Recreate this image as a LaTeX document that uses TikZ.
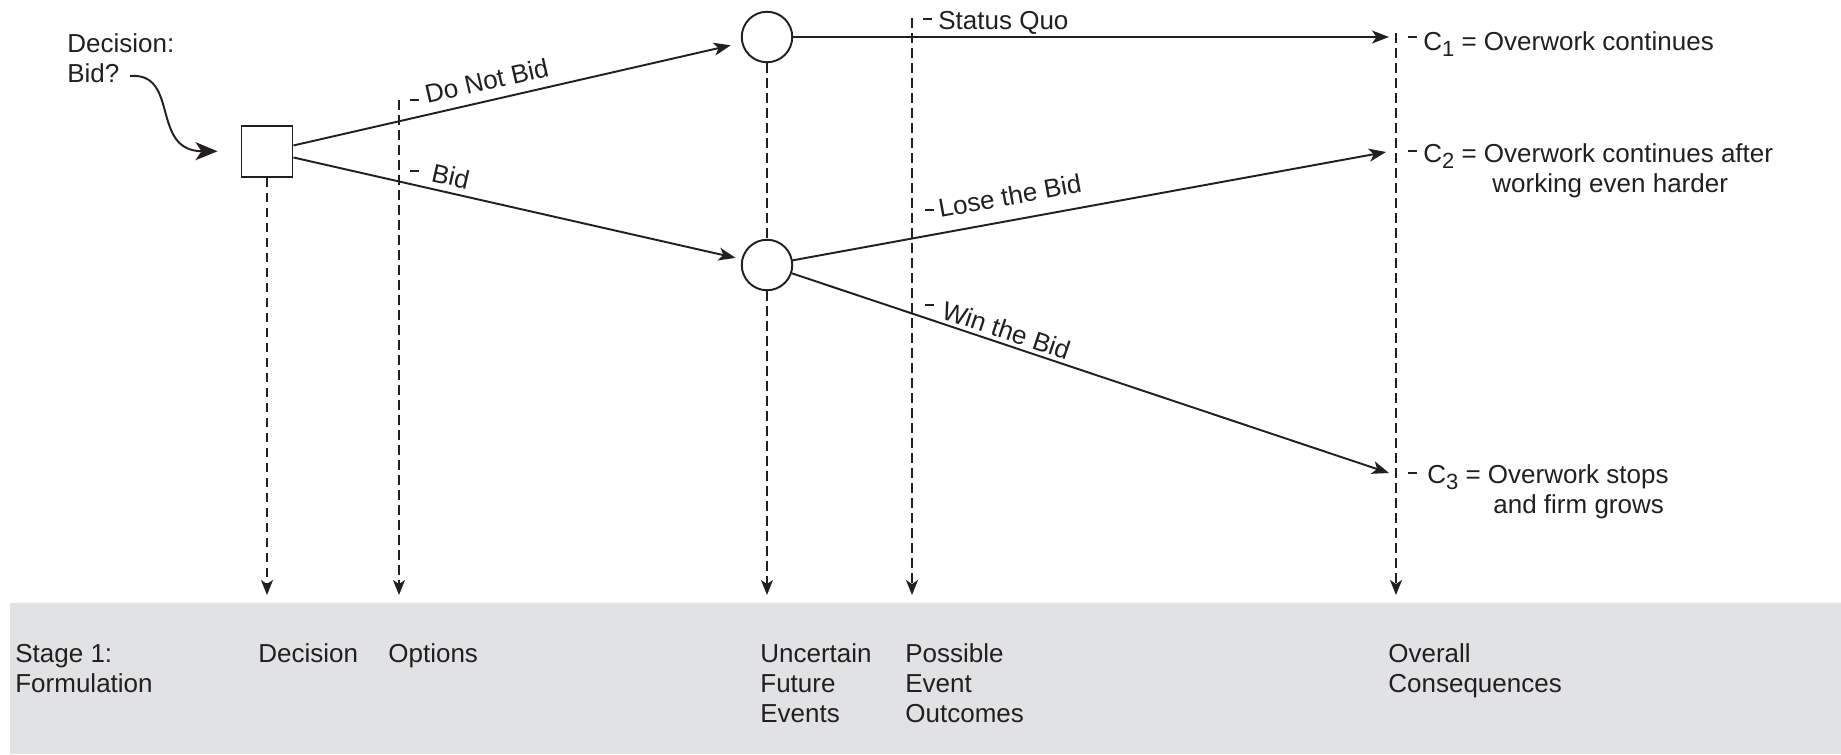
\documentclass[tikz,border=0pt]{standalone}
\usepackage{fontspec}
\setmainfont{Liberation Sans}
\usetikzlibrary{arrows.meta}

\definecolor{ink}{RGB}{35,31,32}
\definecolor{bandgray}{RGB}{225,226,228}

\newcommand{\csub}[1]{\raisebox{-0.45ex}{\fontsize{12.5}{12.5}\selectfont #1}}
\newcommand{\stack}[1]{\begin{tabular}[t]{@{}l@{}}#1\end{tabular}}

\tikzset{
  every node/.style={font=\fontsize{14.8}{17.07}\selectfont, text=ink},
  decbox/.style={draw=ink, line width=1.1pt, minimum size=10.2mm, inner sep=0pt},
  chance/.style={circle, draw=ink, line width=1.1pt, minimum size=10.1mm, inner sep=0pt},
  branch/.style={draw=ink, line width=1.1pt, -{Stealth[length=3.4mm, width=2.6mm, inset=0.9mm]}},
  guide/.style={draw=ink, line width=0.9pt, dash pattern=on 1.9mm off 1.1mm},
  guidearrow/.style={guide, -{Stealth[length=3mm, width=2.4mm, inset=0.8mm]}},
  tick/.style={draw=ink, line width=0.9pt},
  lbl/.style={anchor=base west, inner sep=0pt}
}

\begin{document}
\begin{tikzpicture}[x=0.2mm, y=-0.2mm]
\useasboundingbox (0,0) rectangle (1841,754);

% 1. Stage band along the bottom
\fill[bandgray] (10,603) rectangle (1841,754);

% 2. Decision node and chance nodes
\node[decbox] (dec) at (267,151.5) {};
\node[chance] (unc1) at (767,37) {};
\node[chance] (unc2) at (767,265) {};

% 3. Ends of the branches and of the guide lines
\coordinate (c1) at (1389,37);
\coordinate (c2) at (1386,152);
\coordinate (c3) at (1389,473);
\coordinate (optTop) at (399,100);
\coordinate (outTop) at (912,18);
\coordinate (conTop) at (1396,33);
\coordinate (decEnd) at (267,595);
\coordinate (optEnd) at (399,595);
\coordinate (uncEnd) at (767,595);
\coordinate (outEnd) at (912,595);
\coordinate (conEnd) at (1396,595);

% 4. Branches of the tree
\draw[branch, shorten >=2.2mm] (dec) -- (unc1);
\draw[branch, shorten >=1.2mm] (dec) -- (unc2);
\draw[branch] (unc1) -- (c1);
\draw[branch] (unc2) -- (c2);
\draw[branch] (unc2) -- (c3);

% 5. Dashed guide lines down to the band
\draw[guidearrow] (dec) -- (decEnd);
\draw[guidearrow] (optTop) -- (optEnd);
\draw[guide] (unc1) -- (unc2);
\draw[guidearrow] (unc2) -- (uncEnd);
\draw[guidearrow] (outTop) -- (outEnd);
\draw[guidearrow] (conTop) -- (conEnd);

% 6. Small dashes in front of the labels
\foreach \tx/\ty in {410/100, 410/171, 923/19, 925/210, 925/305, 1408/37, 1408/151, 1408/473}
  \draw[tick] (\tx,\ty) -- +(9,0);

% 7. Branch labels
\node[lbl, rotate=12.9] at (427,104) {Do Not Bid};
\node[lbl, rotate=-12.8] at (430,181) {Bid};
\node[lbl] at (938,29) {Status Quo};
\node[lbl, rotate=10.3] at (940,218) {Lose the Bid};
\node[lbl, rotate=-18.5] at (940,318) {Win the Bid};

% 8. Consequences
\node[lbl] at (1423,50) {C\csub{1} = Overwork continues};
\node[lbl] at (1423,162) {\stack{C\csub{2} = Overwork continues after\\\hspace*{13.8mm}working even harder}};
\node[lbl] at (1427,483) {\stack{C\csub{3} = Overwork stops\\\hspace*{13.2mm}and firm grows}};

% 9. Decision question with its curved arrow
\node[lbl] (dq) at (67,52) {\stack{Decision:\\Bid?}};
\coordinate (dqEnd) at (130,76);
\draw[draw=ink, line width=1.1pt, shorten >=4.6mm,
      -{Stealth[length=4.4mm, width=3.6mm, inset=1.2mm]}]
  (dqEnd) .. controls (180,72) and (150,151) .. (dec);

% 10. Stage labels in the band
\node[lbl] at (15,662) {\stack{Stage 1:\\Formulation}};
\node[lbl] at (258,662) {Decision};
\node[lbl] at (388,662) {Options};
\node[lbl] at (760,662) {\stack{Uncertain\\Future\\Events}};
\node[lbl] at (905,662) {\stack{Possible\\Event\\Outcomes}};
\node[lbl] at (1388,662) {\stack{Overall\\Consequences}};

\end{tikzpicture}
\end{document}
